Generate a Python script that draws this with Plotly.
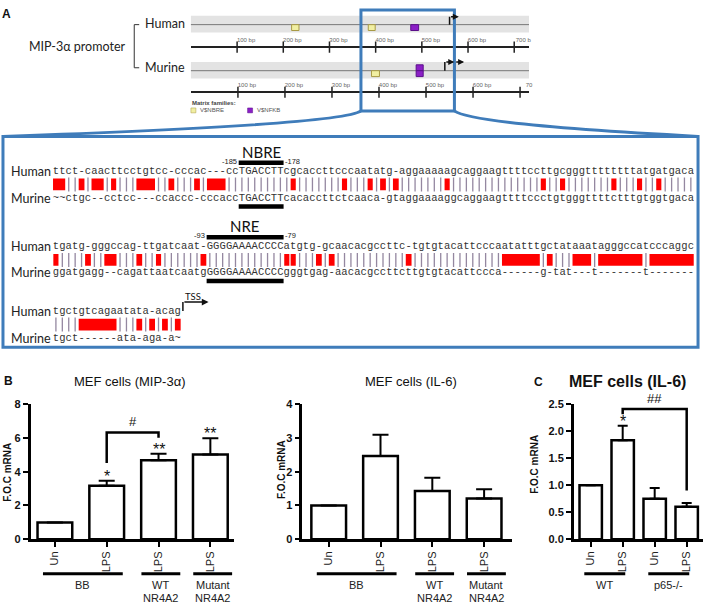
import plotly.graph_objects as go

W, H = 708, 611

# ------------------------------------------------------------------ data
# Panel B (left): MEF cells (MIP-3alpha)
mip_labels = ["Un", "LPS", "LPS", "LPS"]
mip_values = [1.0, 3.17, 4.68, 5.02]
mip_errors = [0.0, 0.29, 0.38, 0.95]
mip_marks = ["", "*", "**", "**"]
mip_groups = [["BB"], ["WT", "NR4A2"], ["Mutant", "NR4A2"]]
mip_group_first = [0, 2, 3]
mip_group_last = [1, 2, 3]
mip_bracket = [1, 2, 6.32, 4.52, 6.0]      # bar a, bar b, level, end a, end b
mip_bracket_label = "#"

# Panel B (right): MEF cells (IL-6)
il6_labels = ["Un", "LPS", "LPS", "LPS"]
il6_values = [1.0, 2.46, 1.43, 1.21]
il6_errors = [0.0, 0.63, 0.39, 0.27]
il6_marks = ["", "", "", ""]
il6_groups = [["BB"], ["WT", "NR4A2"], ["Mutant", "NR4A2"]]
il6_group_first = [0, 2, 3]
il6_group_last = [1, 2, 3]

# Panel C: MEF cells (IL-6), WT vs p65-/-
c_labels = ["Un", "LPS", "Un", "LPS"]
c_values = [1.0, 1.83, 0.75, 0.60]
c_errors = [0.0, 0.27, 0.20, 0.07]
c_marks = ["", "*", "", ""]
c_groups = [["WT"], ["p65-/-"]]
c_group_first = [0, 2]
c_group_last = [1, 3]
c_bracket = [1, 3, 2.41, 2.31, 0.90]
c_bracket_label = "##"

# Panel A: promoter maps (positions in bp)
ruler_ticks = [100, 200, 300, 400, 500, 600, 700]
human_ruler_text = ["100 bp", "200 bp", "300 bp", "400 bp", "500 bp", "600 bp", "700 b"]
murine_ruler_text = ["100 bp", "200 bp", "300 bp", "400 bp", "500 bp", "600 bp", "70"]
human_length = 732
murine_length = 719
human_nbre = [[218, 234], [384, 399]]
human_nfkb = [[476, 493]]
human_tss = [560]
murine_nbre = [[384, 401]]
murine_nfkb = [[479, 494]]
murine_tss = [540, 561]

# Panel A: alignment
human_rows = [
    "ttct-caacttcctgtcc-cccac---ccTGACCTTcgcaccttcccaatatg-aggaaaaagcaggaagttttccttgcgggttttttttatgatgaca",
    "tgatg-gggccag-ttgatcaat-GGGGAAAACCCCatgtg-gcaacacgccttc-tgtgtacattcccaatatttgctataaatagggccatcccaggc",
    "tgctgtcagaatata-acag",
]
murine_rows = [
    "~~ctgc--cctcc---ccaccc-cccaccTGACCTTcacaccttctcaaca-gtaggaaaaggcaggaagttttccctgtgggttttctttgtggtgaca",
    "ggatgagg--cagattaatcaatgGGGGAAAACCCCgggtgag-aacacgccttcttgtgtacattccca------g-tat---t-------t-------",
    "tgct------ata-aga-a~",
]
site_names = ["NBRE", "NRE"]
site_row = [0, 1]
site_start = [29, 24]
site_end = [36, 36]
site_left_label = ["-185", "-93"]
site_right_label = ["-178", "-79"]

# ------------------------------------------------------------------ helpers
def PX(x):
    return x / W


def PY(y):
    return 1 - y / H


SANS = "Liberation Sans, Arial, sans-serif"
CAL = "Lato, Carlito, sans-serif"
MONO = "Liberation Mono, Courier New, monospace"
BLUE = "#3f7cba"

fig = go.Figure()
shapes = []
annots = []
layout = {}


def txt(x, y, text, size, xref="paper", yref="paper", xanchor="center", yanchor="middle",
        color="#111", family=SANS, weight="normal", textangle=0, yshift=0):
    annots.append(dict(x=x, y=y, xref=xref, yref=yref, text=text, showarrow=False,
                       xanchor=xanchor, yanchor=yanchor, textangle=textangle, yshift=yshift,
                       borderpad=0, font=dict(family=family, size=size, color=color, weight=weight)))


def bar_panel(k, labels, values, errors, marks, groups, gfirst, glast, xdom_px, xr, yr,
              dtick, tickfmt, bw, cap, pads, bracket=None, blabel=""):
    xa = "x" if k == 1 else f"x{k}"
    ya = "y" if k == 1 else f"y{k}"
    n = len(values)
    fig.add_trace(go.Bar(
        x=list(range(n)), y=values, width=bw, xaxis=xa, yaxis=ya, hoverinfo="skip",
        marker=dict(color="white", line=dict(color="black", width=2.5)),
        error_y=dict(type="data", symmetric=False, array=errors, arrayminus=[0] * n,
                     color="black", thickness=2, width=cap),
    ))
    layout["xaxis" if k == 1 else f"xaxis{k}"] = dict(
        domain=[PX(xdom_px[0]), PX(xdom_px[1])], range=xr, anchor=ya,
        tickmode="array", tickvals=list(range(n)), ticktext=labels, tickangle=-90,
        ticks="outside", ticklen=5, tickwidth=1.5, tickcolor="black",
        showline=True, linecolor="black", linewidth=2.5, showgrid=False, zeroline=False,
        tickfont=dict(family=SANS, size=11, color="#222"), fixedrange=True)
    layout["yaxis" if k == 1 else f"yaxis{k}"] = dict(
        domain=[PY(544), PY(406)], range=yr, dtick=dtick, tickformat=tickfmt, anchor=xa,
        ticks="outside", ticklen=5, tickwidth=2, tickcolor="black",
        showline=True, linecolor="black", linewidth=2.5, showgrid=False, zeroline=False,
        tickfont=dict(family=SANS, size=11, color="#111", weight="bold"), fixedrange=True)
    for i, mk in enumerate(marks):
        if mk:
            txt(i, values[i] + errors[i], mk, 16, xref=xa, yref=ya, yanchor="bottom", yshift=-5)
    if bracket:
        a, b, lev, ea, eb = bracket
        shapes.append(dict(type="path", xref=xa, yref=ya,
                           path=f"M {a},{ea} L {a},{lev} L {b},{lev} L {b},{eb}",
                           line=dict(color="black", width=2.5)))
        txt((a + b) / 2, lev, blabel, 13, xref=xa, yref=ya, yanchor="bottom", yshift=2)
    for g, f, l in zip(groups, gfirst, glast):
        lo, hi = pads[0] if l > f else pads[1]
        shapes.append(dict(type="line", xref=xa, yref="paper", x0=f + lo, x1=l + hi,
                           y0=PY(579), y1=PY(579), line=dict(color="black", width=3)))
        cx = (f + lo + l + hi) / 2
        for j, line in enumerate(g):
            txt(cx, PY(591 + 13 * j), line, 11, xref=xa, color="#222")


# ------------------------------------------------------------------ panel B / C
bar_panel(1, mip_labels, mip_values, mip_errors, mip_marks, mip_groups, mip_group_first,
          mip_group_last, (30.7, 235), [-0.47, 3.45], [0, 8], 2, "d", 0.67, 8,
          [(-0.23, 0.31), (-0.33, 0.42)], mip_bracket, mip_bracket_label)
bar_panel(2, il6_labels, il6_values, il6_errors, il6_marks, il6_groups, il6_group_first,
          il6_group_last, (304, 515), [-0.51, 3.54], [0, 4], 1, "d", 0.67, 8,
          [(-0.23, 0.31), (-0.33, 0.42)])
bar_panel(3, c_labels, c_values, c_errors, c_marks, c_groups, c_group_first,
          c_group_last, (577, 707), [-0.53, 3.51], [0, 2.5], 0.5, ".1f", 0.70, 5,
          [(-0.2, 0.08), (-0.2, 0.08)], c_bracket, c_bracket_label)

txt(PX(3), PY(383), "B", 12, xanchor="left", weight="bold")
txt(PX(536), PY(384), "C", 12, xanchor="left", weight="bold")
txt(PX(131), PY(383), "MEF cells (MIP-3α)", 13)
txt(PX(413), PY(383), "MEF cells (IL-6)", 13)
txt(PX(631), PY(383), "MEF cells (IL-6)", 16, weight="bold")
txt(PX(8), PY(475), "F.O.C mRNA", 10, weight="bold", textangle=-90)
txt(PX(283), PY(473), "F.O.C mRNA", 10, weight="bold", textangle=-90)
txt(PX(538), PY(467), "F.O.C mRNA", 10, weight="bold", textangle=-90)

# ------------------------------------------------------------------ panel A: maps
layout["yaxis4"] = dict(domain=[PY(110), PY(0)], range=[110, 0], visible=False, anchor="x4",
                        fixedrange=True)
for k, length, ypos, ttext in ((4, human_length, 42, human_ruler_text),
                               (5, murine_length, 88, murine_ruler_text)):
    layout[f"xaxis{k}"] = dict(
        domain=[PX(192), PX(532)], range=[0, length], anchor="free", position=PY(ypos),
        side="top", showline=True, linecolor="#222", linewidth=1.5, showgrid=False,
        zeroline=False, ticks="", tickmode="array", tickvals=ruler_ticks, ticktext=ttext,
        tickfont=dict(family=SANS, size=6, color="#666"), ticklabelshift=9,
        ticklabelstandoff=2, fixedrange=True)
    fig.add_trace(go.Scatter(x=ruler_ticks, y=[ypos] * len(ruler_ticks), mode="markers",
                             xaxis=f"x{k}", yaxis="y4", hoverinfo="skip",
                             marker=dict(symbol="line-ns", size=8,
                                         line=dict(color="#222", width=1.5))))


def feature(xref, a, b, y0, y1, fill, edge):
    shapes.append(dict(type="rect", xref=xref, yref="y4", x0=a, x1=b, y0=y0, y1=y1,
                       fillcolor=fill, line=dict(color=edge, width=1)))


YEL, YEL_E = "#f1efa2", "#a89a45"
PUR, PUR_E = "#8b1fc6", "#5b0f8a"
for xref, top, mid, bot in (("x4", 10, 19, 27), ("x5", 57, 66, 74)):
    shapes.append(dict(type="rect", xref=f"{xref} domain", yref="y4", x0=0, x1=1, y0=top,
                       y1=bot, fillcolor="#e3e3e3", line=dict(width=0), layer="below"))
    shapes.append(dict(type="line", xref=f"{xref} domain", yref="y4", x0=0, x1=1, y0=mid,
                       y1=mid, line=dict(color="#777", width=1)))
for a, b in human_nbre:
    feature("x4", a, b, 19, 25, YEL, YEL_E)
for a, b in human_nfkb:
    feature("x4", a, b, 19, 25, PUR, PUR_E)
for a, b in murine_nbre:
    feature("x5", a, b, 66, 72, YEL, YEL_E)
for a, b in murine_nfkb:
    feature("x5", a, b, 60, 66, PUR, PUR_E)
    feature("x5", a, b, 66, 72, PUR, PUR_E)


def tss_arrow(xref, pos, base, top, bp_len):
    shapes.append(dict(type="line", xref=xref, yref="y4", x0=pos, x1=pos, y0=base, y1=top,
                       line=dict(color="#111", width=1.5)))
    annots.append(dict(x=pos + bp_len, y=top, xref=xref, yref="y4", ax=pos, ay=top,
                       axref=xref, ayref="y4", text="", showarrow=True, arrowhead=2,
                       arrowsize=0.8, arrowwidth=1.5, arrowcolor="#111"))


for p in human_tss:
    tss_arrow("x4", p, 19, 11, 20)
for p in murine_tss:
    tss_arrow("x5", p, 66, 57, 20)

txt(PX(7), PY(8), "A", 12, weight="bold")
txt(PX(145), PY(18), "Human", 12.5, xanchor="left", family=CAL, color="#222")
txt(PX(145), PY(63), "Murine", 12.5, xanchor="left", family=CAL, color="#222")
txt(PX(128), PY(41), "MIP-3α promoter", 12.5, xanchor="right", family=CAL, color="#222")
shapes.append(dict(type="path", xref="paper", yref="paper",
                   path=f"M {PX(140)},{PY(19)} L {PX(135)},{PY(19)} L {PX(135)},{PY(63)} L {PX(140)},{PY(63)}",
                   line=dict(color="#333", width=1)))
txt(PX(192), PY(99), "Matrix families:", 6, xanchor="left", color="#444", weight="bold")
shapes.append(dict(type="rect", xref="paper", yref="paper", x0=PX(192), x1=PX(197),
                   y0=PY(109), y1=PY(104), fillcolor=YEL, line=dict(color=YEL_E, width=0.5)))
txt(PX(200), PY(106.5), "V$NBRE", 6, xanchor="left", color="#555")
shapes.append(dict(type="rect", xref="paper", yref="paper", x0=PX(249), x1=PX(254),
                   y0=PY(109), y1=PY(104), fillcolor=PUR, line=dict(color=PUR_E, width=0.5)))
txt(PX(257), PY(106.5), "V$NFKB", 6, xanchor="left", color="#555")

# highlight rectangle and call-out box
shapes.append(dict(type="rect", xref="paper", yref="paper", x0=PX(363), x1=PX(457),
                   y0=PY(107), y1=PY(4), line=dict(color=BLUE, width=3)))
shapes.append(dict(type="path", xref="paper", yref="paper",
                   path=f"M {PX(3)},{PY(133)} Q {PX(345)},{PY(121)} {PX(363)},{PY(107)}",
                   line=dict(color=BLUE, width=3)))
shapes.append(dict(type="path", xref="paper", yref="paper",
                   path=f"M {PX(457)},{PY(107)} Q {PX(475)},{PY(121)} {PX(702)},{PY(133)}",
                   line=dict(color=BLUE, width=3)))
shapes.append(dict(type="rect", xref="paper", yref="paper", x0=PX(3), x1=PX(702),
                   y0=PY(348), y1=PY(133), line=dict(color=BLUE, width=3)))

# ------------------------------------------------------------------ panel A: alignment
layout["xaxis6"] = dict(domain=[PX(53), PX(698)], range=[0, 100], visible=False,
                        anchor="y6", fixedrange=True)
layout["yaxis6"] = dict(domain=[PY(348), PY(133)], range=[348, 133], visible=False,
                        anchor="x6", fixedrange=True)

row_y = [(169, 182, 196), (245, 259, 272), (312, 325, 339)]
for r, (hs, ms) in enumerate(zip(human_rows, murine_rows)):
    yh, ym, yu = row_y[r]
    for s, yy in ((hs, yh), (ms, yu)):
        fig.add_trace(go.Scatter(x=[i + 0.5 for i in range(len(s))], y=[yy] * len(s),
                                 text=list(s), mode="text", xaxis="x6", yaxis="y6",
                                 hoverinfo="skip",
                                 textfont=dict(family=MONO, size=10.5, color="#333")))
    kinds = []
    for a, b in zip(hs, ms):
        if a.isalpha() and b.isalpha():
            kinds.append("match" if a.lower() == b.lower() else "sub")
        else:
            kinds.append("gap")
    mx = [i + 0.5 for i, k in enumerate(kinds) if k == "match"]
    fig.add_trace(go.Scatter(x=mx, y=[ym] * len(mx), mode="markers", xaxis="x6", yaxis="y6",
                             hoverinfo="skip",
                             marker=dict(symbol="line-ns", size=10,
                                         line=dict(color="#9487a0", width=1.3))))
    i = 0
    while i < len(kinds):
        if kinds[i] == "gap":
            j = i
            while j + 1 < len(kinds) and kinds[j + 1] == "gap":
                j += 1
            shapes.append(dict(type="rect", xref="x6", yref="y6", x0=i + 0.05, x1=j + 0.95,
                               y0=ym - 6, y1=ym + 6, fillcolor="#ff0000", line=dict(width=0)))
            i = j + 1
        else:
            if kinds[i] == "sub":
                shapes.append(dict(type="rect", xref="x6", yref="y6", x0=i + 0.1, x1=i + 0.9,
                                   y0=ym - 6, y1=ym + 6, fillcolor="#ff0000",
                                   line=dict(width=0)))
            i += 1
    sx = [i + 0.5 for i, k in enumerate(kinds) if k == "sub"]
    fig.add_trace(go.Scatter(x=sx, y=[ym] * len(sx), text=["#"] * len(sx), mode="text",
                             xaxis="x6", yaxis="y6", hoverinfo="skip",
                             textfont=dict(family=MONO, size=8, color="#ffd8d8")))
    txt(PX(10), PY(yh), "Human", 12.5, xanchor="left", family=CAL, color="#222")
    txt(PX(10), PY(yu), "Murine", 12.5, xanchor="left", family=CAL, color="#222")

# binding sites
for name, r, a, b, ll, rl in zip(site_names, site_row, site_start, site_end,
                                 site_left_label, site_right_label):
    yh, ym, yu = row_y[r]
    ybar = yh - 9
    shapes.append(dict(type="line", xref="x6", yref="y6", x0=a, x1=b, y0=ybar, y1=ybar,
                       line=dict(color="black", width=4.5)))
    shapes.append(dict(type="line", xref="x6", yref="y6", x0=a, x1=b, y0=yu + 8.5, y1=yu + 8.5,
                       line=dict(color="black", width=4.5)))
    txt((a + b) / 2, ybar - 1, name, 15, xref="x6", yref="y6", yanchor="bottom",
        family=CAL, color="#111")
    txt(a - 0.1, ybar - 1.5, ll, 7.5, xref="x6", yref="y6", xanchor="right", color="#222")
    txt(b + 0.1, ybar - 1.5, rl, 7.5, xref="x6", yref="y6", xanchor="left", color="#222")

# TSS arrow after last human row
tss_x = len(human_rows[2]) + 0.3
shapes.append(dict(type="line", xref="x6", yref="y6", x0=tss_x, x1=tss_x, y0=311, y1=302,
                   line=dict(color="#111", width=1.5)))
annots.append(dict(x=tss_x + 4, y=302, xref="x6", yref="y6", ax=tss_x, ay=302, axref="x6",
                   ayref="y6", text="", showarrow=True, arrowhead=2, arrowsize=0.9,
                   arrowwidth=1.5, arrowcolor="#111"))
txt(tss_x + 1.5, 296, "TSS", 9.5, xref="x6", yref="y6", family=CAL, color="#111")

# ------------------------------------------------------------------ layout
fig.update_layout(
    width=W, height=H, margin=dict(l=0, r=0, t=0, b=0), showlegend=False,
    paper_bgcolor="white", plot_bgcolor="rgba(0,0,0,0)",
    shapes=shapes, annotations=annots, **layout)
fig.write_html("out.html", config={"displayModeBar": False},
               post_script="document.body.style.margin='0';document.body.style.padding='0';")
